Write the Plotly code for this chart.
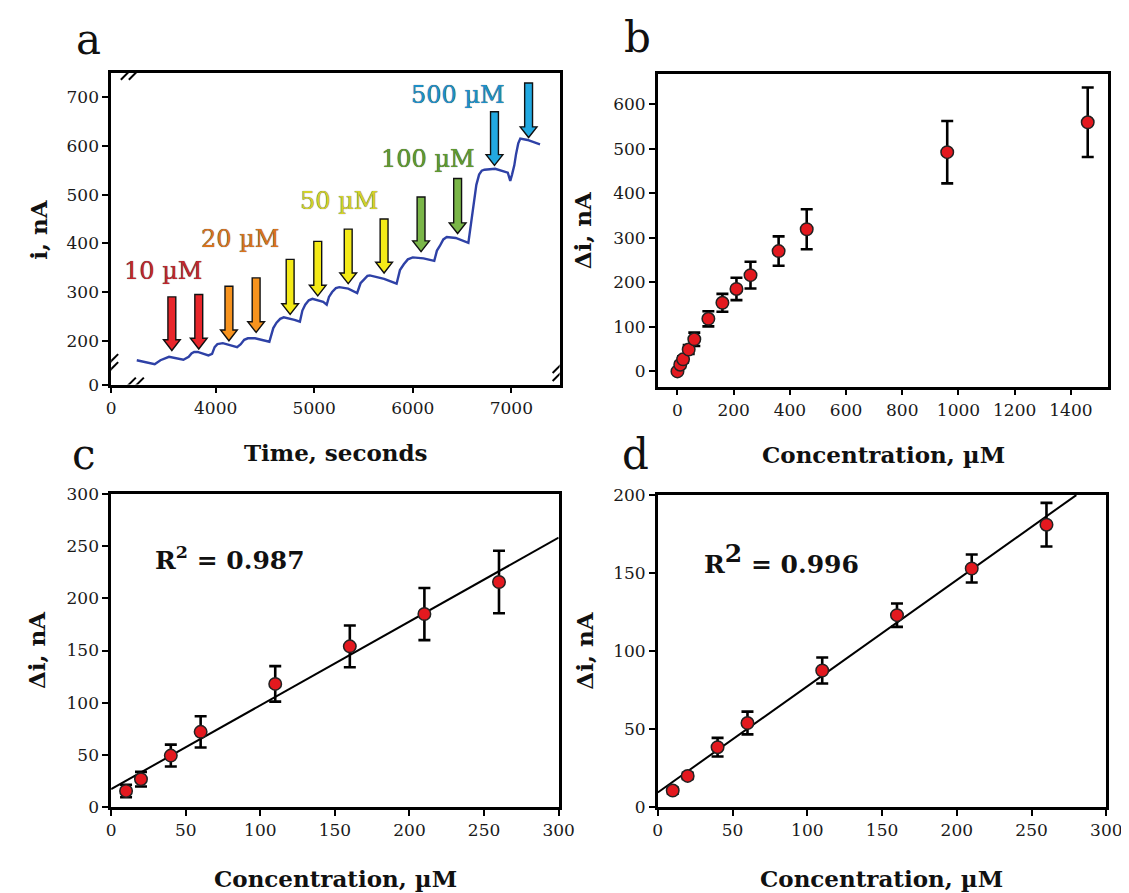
import numpy as np
import plotly.graph_objects as go

W, H = 1129, 893
SERIF = "DejaVu Serif"

# ---------------- Panel a: amperometric trace ----------------
time_s = [3200, 3382, 3440, 3491, 3527, 3673, 3727, 3755, 3782, 3818,
          3927, 3964, 3990, 4018, 4073, 4218, 4255, 4290, 4327, 4400,
          4545, 4585, 4618, 4655, 4691, 4800, 4855, 4880, 4909, 4945,
          4982, 5091, 5127, 5150, 5182, 5220, 5255, 5345, 5436, 5470,
          5509, 5540, 5564, 5709, 5836, 5870, 5909, 5950, 6000, 6109,
          6218, 6245, 6273, 6310, 6345, 6436, 6564, 6590, 6618, 6645,
          6673, 6700, 6727, 6836, 6964, 6989, 7007, 7030, 7047, 7070,
          7091, 7164, 7291]
current_nA = [160, 152, 160, 165, 167, 161, 167, 174, 177, 177,
              170, 173, 187, 193, 195, 187, 193, 202, 205, 205,
              198, 226, 237, 245, 248, 243, 239, 262, 274, 283,
              286, 280, 274, 290, 300, 308, 310, 307, 298, 318,
              327, 333, 334, 327, 317, 345, 357, 367, 371, 369,
              364, 385, 394, 408, 413, 411, 401, 440, 481, 520,
              541, 549, 551, 553, 545, 528, 541, 560, 582, 605,
              615, 612, 603]

arrow_time = [3556, 3829, 4135, 4411, 4756, 5036, 5345, 5709, 6084, 6455, 6829, 7175]
arrow_top = [290, 295, 312, 329, 367, 404, 429, 450, 495, 533, 670, 729]
arrow_tip = [180, 183, 200, 217, 254, 292, 317, 339, 383, 420, 560, 617]
arrow_colors = ["#e8262b", "#e8262b", "#f7931e", "#f7931e", "#f4ea18", "#f4ea18",
                "#f4ea18", "#f4ea18", "#7ab648", "#7ab648", "#22a9e1", "#22a9e1"]

dose_labels = ["10 µM", "20 µM", "50 µM", "100 µM", "500 µM"]
dose_label_time = [3462, 4244, 5255, 6153, 6462]
dose_label_current = [344, 409, 486, 573, 704]
dose_label_colors = ["#c0272d", "#d9731e", "#d4d12a", "#5f9a2f", "#1d8fc9"]

a_xrange = [2940, 7490]
a_yrange = [110, 750]
a_xtickvals = [2940, 4000, 5000, 6000, 7000]
a_xticktext = ["0", "4000", "5000", "6000", "7000"]
a_ytickvals = [110, 200, 300, 400, 500, 600, 700]
a_yticktext = ["0", "200", "300", "400", "500", "600", "700"]

# ---------------- Panel b: full calibration ----------------
conc_b = [0, 10, 20, 40, 60, 110, 160, 210, 260, 360, 460, 960, 1460]
di_b = [0, 15, 27, 49, 72, 118, 154, 185, 216, 270, 319, 492, 559]
err_b = [3, 6, 7, 10, 15, 17, 20, 25, 30, 33, 45, 70, 78]

# ---------------- Panel c: linear range ----------------
conc_c = [10, 20, 40, 60, 110, 160, 210, 260]
di_c = [15.3, 26.6, 49.2, 72, 118, 154, 185, 215.7]
err_c = [6, 7, 10.5, 15, 17, 20, 25, 30]
r2_c = "0.987"

# ---------------- Panel d: linear range ----------------
conc_d = [10, 20, 40, 60, 110, 160, 210, 260]
di_d = [10.5, 19.9, 38.3, 53.8, 87.5, 123, 152.9, 181]
err_d = [2, 2, 6, 7.3, 8.3, 7.5, 9, 14]
r2_d = "0.996"

# ---------------- layout geometry (pixels) ----------------
boxes = {  # left, right, top, bottom in px
    "a": (100, 557, 56, 375),
    "b": (657, 1116, 57, 377),
    "c": (100, 556, 487, 807),
    "d": (657, 1114, 488, 807),
}


def xdom(k):
    l, r, t, b = boxes[k]
    return [l / W, r / W]


def ydom(k):
    l, r, t, b = boxes[k]
    return [1 - b / H, 1 - t / H]


def px(x):
    return x / W


def py(y):
    return 1 - y / H


fig = go.Figure()

RED = "#e3191f"

# panel a trace
fig.add_trace(go.Scatter(x=time_s, y=current_nA, mode="lines",
                         line=dict(color="#2e41a6", width=2.4),
                         xaxis="x", yaxis="y", showlegend=False))

marker_style = dict(color=RED, size=12.5, line=dict(color="#222", width=1.5))


def err_style(arr):
    return dict(type="data", array=arr, color="black", thickness=2.6, width=6)


# panel b
fig.add_trace(go.Scatter(x=conc_b, y=di_b, mode="markers", marker=marker_style,
                         error_y=err_style(err_b), xaxis="x2", yaxis="y2", showlegend=False))


def fit_line(xs, ys, xmax, ymax):
    m, b = np.polyfit(xs, ys, 1)
    xend = min(xmax, (ymax - b) / m)
    return [0, xend], [b, m * xend + b]


lx, ly = fit_line(conc_c, di_c, 300, 300)
fig.add_trace(go.Scatter(x=lx, y=ly, mode="lines", line=dict(color="black", width=2),
                         xaxis="x3", yaxis="y3", showlegend=False))
fig.add_trace(go.Scatter(x=conc_c, y=di_c, mode="markers", marker=marker_style,
                         error_y=err_style(err_c), xaxis="x3", yaxis="y3", showlegend=False))

lx, ly = fit_line(conc_d, di_d, 300, 200)
fig.add_trace(go.Scatter(x=lx, y=ly, mode="lines", line=dict(color="black", width=2),
                         xaxis="x4", yaxis="y4", showlegend=False))
fig.add_trace(go.Scatter(x=conc_d, y=di_d, mode="markers", marker=marker_style,
                         error_y=err_style(err_d), xaxis="x4", yaxis="y4", showlegend=False))

tickfont = dict(family=SERIF, size=17, color="#1a1a1a")
axis_common = dict(showline=True, linecolor="black", linewidth=2.5, mirror=True,
                   ticks="outside", ticklen=6, tickwidth=2, tickcolor="black",
                   showgrid=False, zeroline=False, tickfont=tickfont)

fig.update_layout(
    width=W, height=H, margin=dict(l=0, r=0, t=0, b=0),
    paper_bgcolor="white", plot_bgcolor="white",
    xaxis=dict(domain=xdom("a"), range=a_xrange, tickvals=a_xtickvals, ticktext=a_xticktext,
               anchor="y", **axis_common),
    yaxis=dict(domain=ydom("a"), range=a_yrange, tickvals=a_ytickvals, ticktext=a_yticktext,
               anchor="x", **axis_common),
    xaxis2=dict(domain=xdom("b"), range=[-70, 1533], tickvals=list(range(0, 1401, 200)),
                anchor="y2", **axis_common),
    yaxis2=dict(domain=ydom("b"), range=[-34, 668], tickvals=list(range(0, 601, 100)),
                anchor="x2", **axis_common),
    xaxis3=dict(domain=xdom("c"), range=[0, 300], tickvals=list(range(0, 301, 50)),
                anchor="y3", **axis_common),
    yaxis3=dict(domain=ydom("c"), range=[0, 300], tickvals=list(range(0, 301, 50)),
                anchor="x3", **axis_common),
    xaxis4=dict(domain=xdom("d"), range=[0, 300], tickvals=list(range(0, 301, 50)),
                anchor="y4", **axis_common),
    yaxis4=dict(domain=ydom("d"), range=[0, 200], tickvals=list(range(0, 201, 50)),
                anchor="x4", **axis_common),
)

# arrows (block arrows drawn in data space of panel a)
SHAFT_HALF = 40   # seconds
HEAD_HALF = 85    # seconds
HEAD_LEN = 22     # nA
shapes = []
for xa, top, tip, col in zip(arrow_time, arrow_top, arrow_tip, arrow_colors):
    hb = tip + HEAD_LEN
    path = (f"M {xa-SHAFT_HALF},{top} L {xa+SHAFT_HALF},{top} L {xa+SHAFT_HALF},{hb} "
            f"L {xa+HEAD_HALF},{hb} L {xa},{tip} L {xa-HEAD_HALF},{hb} L {xa-SHAFT_HALF},{hb} Z")
    shapes.append(dict(type="path", path=path, xref="x", yref="y",
                       fillcolor=col, line=dict(color="#111", width=1.4), layer="above"))


# axis-break marks (pixel-sized, anchored on the axes of panel a)
def brk(xa, ya, horizontal):
    out = []
    for off in (-4, 4):
        ox, oy = (off, 0) if horizontal else (0, off)
        out.append(dict(type="line", xref="x", yref="y", xsizemode="pixel", ysizemode="pixel",
                        xanchor=xa, yanchor=ya,
                        x0=-7 + ox, x1=7 + ox, y0=-7 + oy, y1=7 + oy,
                        line=dict(color="black", width=2)))
    return out


shapes += brk(a_xrange[0], 150, False)      # left axis
shapes += brk(3160, a_yrange[0], True)      # bottom axis
shapes += brk(a_xrange[1], 140, False)      # right axis
shapes += brk(3150, a_yrange[1], True)      # top axis
fig.update_layout(shapes=shapes)

ann = []
for t, x, y, c in zip(dose_labels, dose_label_time, dose_label_current, dose_label_colors):
    ann.append(dict(text=t, x=x, y=y, xref="x", yref="y", showarrow=False,
                    font=dict(family=SERIF, size=24, color=c,
                              shadow="0px 0px 0.7px #222")))

title_font = dict(family=SERIF, size=23, color="#111", weight="bold")
for text, x, y, ang in [
    ("i, nA", 26, 217, -90),
    ("Time, seconds", 329, 444, 0),
    ("Δi, nA", 580, 217, -90),
    ("Concentration, µM", 887, 446, 0),
    ("Δi, nA", 24, 647, -90),
    ("Concentration, µM", 329, 880, 0),
    ("Δi, nA", 582, 647, -90),
    ("Concentration, µM", 885, 880, 0),
]:
    ann.append(dict(text=text, x=px(x), y=py(y), xref="paper", yref="paper", showarrow=False,
                    textangle=ang, xanchor="center", yanchor="middle", font=title_font))

letter_font = dict(family=SERIF, size=42, color="#111")
for text, x, y in [("a", 77, 22), ("b", 636, 20), ("c", 72, 446), ("d", 634, 447)]:
    ann.append(dict(text=text, x=px(x), y=py(y), xref="paper", yref="paper", showarrow=False,
                    xanchor="center", yanchor="middle", font=letter_font))

r2_font = dict(family=SERIF, size=25, color="#111", weight="bold")
ann.append(dict(text=f"R<sup>2</sup> = {r2_c}", x=80, y=238, xref="x3", yref="y3",
                showarrow=False, font=r2_font))
ann.append(dict(text=f"R<sup><span style='font-size:25px'>2</span></sup> = {r2_d}", x=83, y=159,
                xref="x4", yref="y4", showarrow=False, font=r2_font))

fig.update_layout(annotations=ann)

fig.write_html("out.html")
